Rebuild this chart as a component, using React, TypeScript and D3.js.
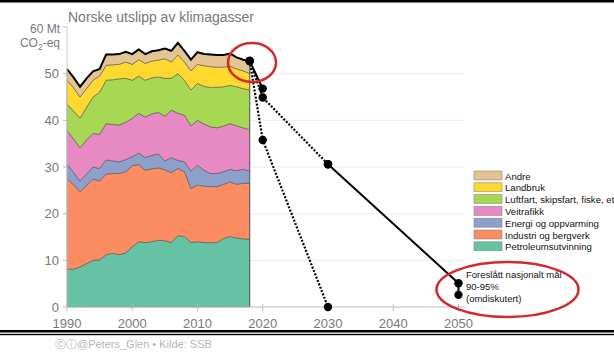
import * as d3 from 'd3'

// Norske utslipp av klimagasser, Mt CO2-eq (SSB)
const years = [1990, 1991, 1992, 1993, 1994, 1995, 1996, 1997, 1998, 1999, 2000, 2001, 2002, 2003, 2004,
  2005, 2006, 2007, 2008, 2009, 2010, 2011, 2012, 2013, 2014, 2015, 2016, 2017, 2018]

const petroleum = [8.1, 8.1, 8.6, 9.3, 10.0, 10.1, 11.2, 11.5, 11.2, 11.6, 12.9, 14.0, 13.8, 14.0, 14.3,
  14.2, 13.8, 15.3, 15.1, 13.8, 14.0, 13.8, 13.8, 13.8, 14.7, 15.1, 14.8, 14.6, 14.5]
const industri = [19.4, 18.1, 16.1, 16.7, 17.4, 16.9, 17.3, 17.1, 17.4, 17.4, 17.4, 16.5, 15.5, 15.6, 15.5,
  15.2, 15.0, 14.4, 13.9, 11.6, 12.1, 12.1, 12.0, 12.0, 11.6, 11.7, 11.5, 11.9, 12.0]
const energi = [3.1, 2.6, 2.3, 2.5, 2.6, 2.7, 3.0, 2.7, 2.5, 2.6, 1.9, 2.5, 2.7, 2.9, 3.0,
  1.9, 3.2, 1.7, 2.1, 3.7, 4.3, 3.4, 2.8, 2.8, 2.7, 2.7, 2.9, 3.0, 2.6]
const veitrafikk = [7.3, 7.2, 7.1, 7.3, 7.2, 7.3, 7.8, 7.8, 7.9, 8.0, 8.2, 8.5, 8.7, 8.9, 8.9,
  9.6, 10.2, 10.1, 10.0, 9.7, 9.6, 9.9, 10.0, 9.8, 9.8, 9.8, 9.6, 8.9, 8.9]
const luftfart = [5.6, 6.0, 6.4, 7.0, 7.8, 9.0, 9.3, 9.6, 9.9, 9.4, 8.2, 8.0, 7.9, 7.7, 7.6,
  8.1, 6.8, 8.5, 7.5, 7.7, 7.9, 8.1, 8.4, 8.7, 8.4, 8.2, 8.4, 8.4, 8.5]
const landbruk = [5.1, 5.0, 4.5, 4.0, 3.6, 3.5, 3.2, 3.2, 3.1, 3.5, 3.4, 3.5, 3.6, 3.6, 3.6,
  4.2, 3.5, 4.0, 3.9, 4.1, 4.1, 4.4, 4.5, 4.3, 4.2, 4.1, 3.8, 3.8, 3.5]
const andre = [2.4, 2.2, 2.2, 2.2, 1.9, 1.5, 2.3, 2.2, 2.2, 2.2, 2.2, 2.2, 2.0, 2.1, 2.1,
  2.2, 2.4, 2.6, 2.4, 2.4, 2.6, 2.5, 2.6, 2.6, 2.6, 2.7, 2.5, 2.4, 2.7]

const seriesNames = ['Petroleumsutvinning', 'Industri og bergverk', 'Energi og oppvarming', 'Veitrafikk',
  'Luftfart, skipsfart, fiske, etc', 'Landbruk', 'Andre']
const seriesValues = [petroleum, industri, energi, veitrafikk, luftfart, landbruk, andre]
const seriesColors = ['#66c2a5', '#fc8d62', '#8da0cb', '#e78ac3', '#a6d854', '#ffd92f', '#e5c494']

// targets
const pathNow = [{ year: 2018, v: 52.7 }, { year: 2020, v: 46.8 }]
const path2030 = [{ year: 2018, v: 52.7 }, { year: 2020, v: 44.9 }, { year: 2030, v: 30.6 }]
const pathZero = [{ year: 2018, v: 52.7 }, { year: 2020, v: 35.8 }, { year: 2030, v: 0 }]
const path2050 = [{ year: 2030, v: 30.6 }, { year: 2050, v: 5.1 }, { year: 2050, v: 2.6 }]

const xTicks = [1990, 2000, 2010, 2020, 2030, 2040, 2050]
const yTicks = [0, 10, 20, 30, 40, 50]

type P = { year: number; v: number }

export default function App() {
  const W = 614
  const H = 353
  const x = d3.scaleLinear().domain([1990, 2051]).range([67, 465])
  const y = d3.scaleLinear().domain([0, 60]).range([307, 27])

  const rows = years.map((yr, i) => {
    const r: Record<string, number> = { year: yr }
    seriesNames.forEach((n, k) => { r[n] = seriesValues[k][i] })
    return r
  })
  const stacked = d3.stack<Record<string, number>>().keys(seriesNames)(rows)
  const area = d3.area<d3.SeriesPoint<Record<string, number>>>()
    .x(d => x(d.data.year)).y0(d => y(d[0])).y1(d => y(d[1]))
  const top = stacked[stacked.length - 1]
  const topLine = d3.line<d3.SeriesPoint<Record<string, number>>>().x(d => x(d.data.year)).y(d => y(d[1]))
  const line = d3.line<P>().x(d => x(d.year)).y(d => y(d.v))

  const last = top[top.length - 1]
  const dots = [...pathNow, ...path2030, ...pathZero, ...path2050]
  const grey = '#777'
  const font = 'Liberation Sans, Arial, Helvetica, sans-serif'
  const legendOrder = seriesNames.map((n, i) => ({ n, c: seriesColors[i] })).reverse()

  return (
    <div style={{ position: 'fixed', left: 0, top: 0 }}>
      <svg width={W} height={H} style={{ display: 'block', background: '#fff' }} fontFamily={font}>
        <rect x={0} y={0} width={W} height={2.5} fill="#000" />
        <rect x={0} y={330} width={W} height={2.5} fill="#000" />
        <rect x={0} y={333.8} width={W} height={1.4} fill="#000" />

        {/* grid */}
        {yTicks.filter(t => t > 0).map(t => (
          <line key={t} x1={x(1990)} x2={465} y1={y(t)} y2={y(t)} stroke="#ececec" strokeWidth={1} />
        ))}

        {/* stacked areas */}
        {stacked.map((s, i) => (
          <path key={s.key} d={area(s) ?? ''} fill={seriesColors[i]} stroke="#555" strokeWidth={0.6} />
        ))}
        <line x1={x(last.data.year)} x2={x(last.data.year)} y1={y(0)} y2={y(last[1])} stroke="#555" strokeWidth={0.8} />
        <path d={topLine(top) ?? ''} fill="none" stroke="#000" strokeWidth={2} />

        {/* axes */}
        <line x1={x(1990)} x2={x(1990)} y1={y(60)} y2={y(0)} stroke="#ccc" strokeWidth={1} />
        <line x1={x(1990)} x2={465} y1={y(0)} y2={y(0)} stroke="#bbb" strokeWidth={1} />
        {[...yTicks, 60].map(t => (
          <g key={t}>
            <line x1={x(1990) - 4} x2={x(1990)} y1={y(t)} y2={y(t)} stroke="#bbb" />
            {t < 60 && (
              <text x={x(1990) - 8} y={y(t)} dy="0.35em" textAnchor="end" fontSize={13} fill={grey}>{t}</text>
            )}
          </g>
        ))}
        <text x={x(1990) - 7} y={33} textAnchor="end" fontSize={12} fill={grey}>60 Mt</text>
        <text x={x(1990) - 7} y={47} textAnchor="end" fontSize={12} fill={grey}>
          CO<tspan fontSize={8.5} dy={3}>2</tspan><tspan dy={-3}>-eq</tspan>
        </text>
        {xTicks.map(t => (
          <g key={t}>
            <line x1={x(t)} x2={x(t)} y1={y(0) - 3} y2={y(0) + 4} stroke="#bbb" />
            <text x={x(t)} y={328} textAnchor="middle" fontSize={13} fill={grey}>{t}</text>
          </g>
        ))}

        <text x={68} y={22} fontSize={14} fill={grey}>Norske utslipp av klimagasser</text>

        {/* target paths */}
        <path d={line(pathNow) ?? ''} fill="none" stroke="#000" strokeWidth={2} />
        <path d={line(path2030) ?? ''} fill="none" stroke="#000" strokeWidth={2.2} strokeDasharray="2,1.6" />
        <path d={line(pathZero) ?? ''} fill="none" stroke="#000" strokeWidth={2.2} strokeDasharray="2,1.6" />
        <path d={line(path2050) ?? ''} fill="none" stroke="#000" strokeWidth={2} />
        {dots.map((d, i) => (
          <circle key={i} cx={x(d.year)} cy={y(d.v)} r={4.2} fill="#000" />
        ))}

        {/* legend */}
        {legendOrder.map((l, i) => (
          <g key={l.n} transform={`translate(474,${171 + i * 11.8})`}>
            <rect x={0} y={0} width={28} height={9} fill={l.c} stroke="#888" strokeWidth={0.6} />
            <text x={31} y={8.5} fontSize={9.6} fill="#111">{l.n}</text>
          </g>
        ))}

        {/* annotation */}
        <text x={466} y={278} fontSize={9.5} fill="#111">Foreslått nasjonalt mål</text>
        <text x={466} y={290} fontSize={9.5} fill="#111">90-95%</text>
        <text x={466} y={302} fontSize={9.5} fill="#111">(omdiskutert)</text>

        {/* red highlights */}
        <ellipse cx={252} cy={62.5} rx={24} ry={19.5} fill="none" stroke="#d22a2a" strokeWidth={2.5} />
        <ellipse cx={507.5} cy={289.5} rx={71} ry={27.5} fill="none" stroke="#d22a2a" strokeWidth={2.5} />

        <text x={55} y={348} fontSize={11} fill="#b5b5b5">ⓒⓘ@Peters_Glen  •  Kilde: SSB</text>
      </svg>
    </div>
  )
}
